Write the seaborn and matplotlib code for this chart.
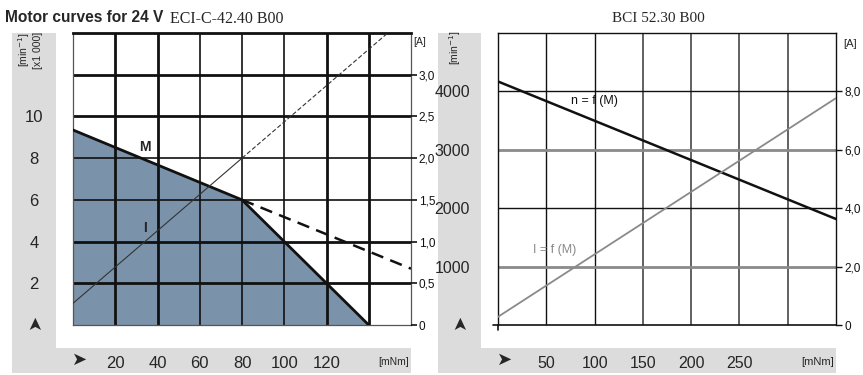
import numpy as np
import pandas as pd
import matplotlib
matplotlib.use("Agg")
import matplotlib.pyplot as plt
import seaborn as sns
from matplotlib.patches import Rectangle

# --- left chart: ECI-C-42.40 B00 (speed x1000 min-1, current A vs torque mNm)
eci_torque_m = [0, 80, 100, 120, 140]
eci_speed_m = [9.35, 6.0, 4.0, 2.0, 0.0]
eci_torque_ext = [80, 160]
eci_speed_ext = [6.0, 2.7]
eci_torque_i = [0, 80]
eci_current_i = [0.26, 2.0]
eci_torque_i_ext = [80, 149]
eci_current_i_ext = [2.0, 3.5]
eci_xticks = [20, 40, 60, 80, 100, 120]
eci_yticks = [2, 4, 6, 8, 10]
eci_aticks = [0, 0.5, 1.0, 1.5, 2.0, 2.5, 3.0]
eci_alabels = ["0", "0,5", "1,0", "1,5", "2,0", "2,5", "3,0"]

# --- right chart: BCI 52.30 B00
bci_torque = [0, 350]
bci_speed = [4170, 1815]
bci_current = [0.28, 7.77]
bci_xticks = [50, 100, 150, 200, 250]
bci_yticks = [1000, 2000, 3000, 4000]
bci_aticks = [0, 2, 4, 6, 8]
bci_alabels = ["0", "2,0", "4,0", "6,0", "8,0"]

sns.set_style("white")
plt.rcParams["font.family"] = ["Liberation Sans", "DejaVu Sans"]

W, H = 863, 375
fig = plt.figure(figsize=(W / 100, H / 100), dpi=100)


def box(x, y, w, h):
    return [x / W, 1 - (y + h) / H, w / W, h / H]


def band(x, y, w, h):
    fig.add_artist(Rectangle((x / W, 1 - (y + h) / H), w / W, h / H,
                             transform=fig.transFigure, facecolor="#dcdcdc",
                             edgecolor="none", zorder=-5))


def ftext(x, y, s, **kw):
    fig.text(x / W, 1 - y / H, s, **kw)


band(12, 33, 44, 340)
band(56, 348, 355, 25)
band(438, 33, 43, 340)
band(481, 348, 355, 25)

fill_col = "#7b93aa"

# ================= left chart =================
ax = fig.add_axes(box(73, 33, 338, 292))
ax.set_xlim(0, 160)
ax.set_ylim(0, 14)
ax.fill_between(eci_torque_m, eci_speed_m, 0, color=fill_col, zorder=0.5, lw=0)
thick_v = {20, 40, 120, 140}
for v in range(20, 160, 20):
    ax.axvline(v, color="#111111", lw=2.0 if v in thick_v else 1.2, zorder=1)
thick_h = {2, 4, 10, 12}
for h in range(2, 14, 2):
    ax.axhline(h, color="#111111", lw=2.0 if h in thick_h else 1.2, zorder=1)
sns.lineplot(x=eci_torque_m, y=eci_speed_m, ax=ax, color="#111111", lw=2.0, zorder=3)
sns.lineplot(x=eci_torque_ext, y=eci_speed_ext, ax=ax, color="#111111", lw=1.8,
             linestyle=(0, (5, 3)), zorder=3)
ax.text(34, 8.55, "M", fontsize=10, fontweight="bold", ha="center", va="center")
ax.text(34, 4.65, "I", fontsize=10, fontweight="bold", ha="center", va="center")

ax.set_xticks(eci_xticks)
ax.set_xticklabels([str(t) for t in eci_xticks], fontsize=12)
ax.set_yticks(eci_yticks)
ax.set_yticklabels([str(t) for t in eci_yticks], fontsize=12, ha="center")
ax.tick_params(axis="x", length=0, pad=22)
ax.tick_params(axis="y", length=0, pad=28)
for s in ["left", "right", "bottom"]:
    ax.spines[s].set_color("#555555")
    ax.spines[s].set_linewidth(0.9)
ax.spines["top"].set_color("#111111")
ax.spines["top"].set_linewidth(2.0)

ax2 = ax.twinx()
ax2.set_ylim(0, 3.5)
sns.lineplot(x=eci_torque_i, y=eci_current_i, ax=ax2, color="#333333", lw=0.8)
sns.lineplot(x=eci_torque_i_ext, y=eci_current_i_ext, ax=ax2, color="#333333", lw=0.8,
             linestyle=(0, (4, 2)))
ax2.set_yticks(eci_aticks)
ax2.set_yticklabels(eci_alabels, fontsize=8.5)
ax2.tick_params(axis="y", length=4, width=1.2, pad=1.5, colors="#111111")
for s in ax2.spines.values():
    s.set_visible(False)

ftext(5, 18, "Motor curves for 24 V", fontsize=11.2, fontweight="bold", va="center")
ftext(170, 19, "ECI-C-42.40 B00", fontsize=11.5, va="center", family="Liberation Serif")
ftext(24, 50, "[min$^{-1}$]", fontsize=7.5, rotation=90, ha="center", va="center")
ftext(38, 50, "[x1 000]", fontsize=7.5, rotation=90, ha="center", va="center")
ftext(420, 42, "[A]", fontsize=7.5, ha="center", va="center")
ftext(35, 321, "\u27a4", fontsize=13, rotation=90, ha="center", va="center",
      family="DejaVu Sans")
ftext(80, 360, "\u27a4", fontsize=13, ha="center", va="center", family="DejaVu Sans")
ftext(394, 362, "[mNm]", fontsize=7.5, ha="center", va="center")

# ================= right chart =================
bx = fig.add_axes(box(498, 33, 338, 292))
bx.set_xlim(0, 350)
bx.set_ylim(0, 5000)
for v in range(50, 350, 50):
    gray = v >= 150
    bx.axvline(v, color="#555555" if gray else "#111111", lw=1.3 if gray else 1.0, zorder=1)
for h in range(1000, 5000, 1000):
    gray = h in (1000, 3000)
    bx.axhline(h, color="#8a8a8a" if gray else "#111111", lw=2.0 if gray else 1.0, zorder=1)
sns.lineplot(x=bci_torque, y=bci_speed, ax=bx, color="#111111", lw=1.8, zorder=3)
bx.text(76, 3840, "n = f (M)", fontsize=9, ha="left", va="center", color="#111111")
bx.text(36, 1290, "I = f (M)", fontsize=9, ha="left", va="center", color="#8a8a8a")
bx.set_xticks(bci_xticks)
bx.set_xticklabels([str(t) for t in bci_xticks], fontsize=11.5)
bx.set_yticks(bci_yticks)
bx.set_yticklabels([str(t) for t in bci_yticks], fontsize=11.5, ha="center")
bx.tick_params(axis="x", length=0, pad=22)
bx.tick_params(axis="y", length=0, pad=33)
for s in ["left", "top", "right"]:
    bx.spines[s].set_color("#111111")
    bx.spines[s].set_linewidth(1.0)
bx.spines["bottom"].set_visible(False)
bx.plot([-0.015, 1.0], [0, 0], transform=bx.transAxes, color="#111111", lw=1.2,
        clip_on=False)
bx.plot([0, 0], [0, -0.018], transform=bx.transAxes, color="#111111", lw=1.2,
        clip_on=False)

bx2 = bx.twinx()
bx2.set_ylim(0, 10)
sns.lineplot(x=bci_torque, y=bci_current, ax=bx2, color="#8a8a8a", lw=1.3)
bx2.set_yticks(bci_aticks)
bx2.set_yticklabels(bci_alabels, fontsize=8.5)
bx2.tick_params(axis="y", length=4, width=1.0, pad=2, colors="#111111")
for s in bx2.spines.values():
    s.set_visible(False)

ftext(658, 18, "BCI 52.30 B00", fontsize=11, ha="center", va="center",
      family="Liberation Serif")
ftext(455, 48, "[min$^{-1}$]", fontsize=7.5, rotation=90, ha="center", va="center")
ftext(850, 44, "[A]", fontsize=8, ha="center", va="center")
ftext(460, 321, "\u27a4", fontsize=13, rotation=90, ha="center", va="center",
      family="DejaVu Sans")
ftext(505, 360, "\u27a4", fontsize=13, ha="center", va="center", family="DejaVu Sans")
ftext(818, 362, "[mNm]", fontsize=8, ha="center", va="center")

fig.savefig("out.png", dpi=100)
